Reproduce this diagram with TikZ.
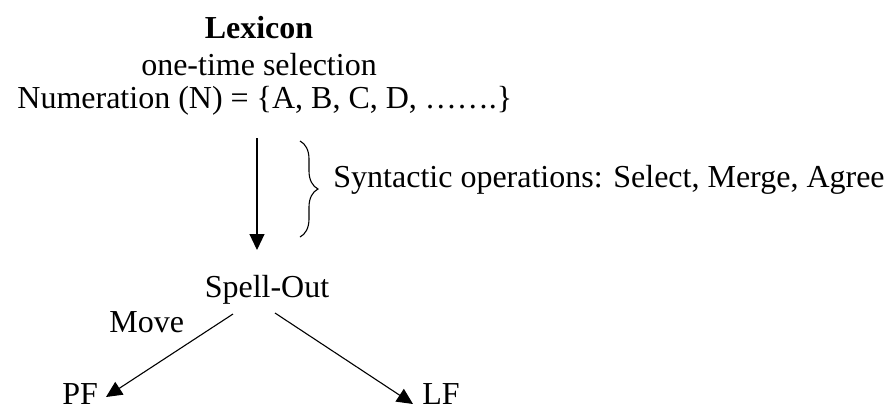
\documentclass[tikz,border=0pt]{standalone}
\usepackage{fontspec}
\setmainfont{Liberation Serif}
\usetikzlibrary{arrows.meta,decorations.pathreplacing}
\tikzset{
  lbl/.style={inner sep=0pt, font=\fontsize{16}{19}\selectfont},
  conn/.style={line width=0.55pt, -{Triangle[width=7.5pt,length=8pt]}},
}
\begin{document}
\begin{tikzpicture}[x=0.5pt,y=-0.5pt]
\useasboundingbox (0,0) rectangle (885,409);
\node[lbl, anchor=base, font=\fontsize{16}{19}\selectfont\bfseries] (lex) at (259,38) {Lexicon};
\node[lbl, anchor=base] (sel) at (259,75) {one-time selection};
\node[lbl, anchor=base west] (num) at (17,108) {Numeration (N) = \{A, B, C, D, …….\}};
\coordinate (vtop) at (257,138);
\coordinate (vbot) at (257,250);
\draw[conn] (vtop) -- (vbot);
\coordinate (btop) at (300,141);
\coordinate (bbot) at (300,237);
\draw[line width=0.55pt, decorate, decoration={brace, amplitude=9pt}] (btop) -- (bbot);
\node[lbl, anchor=base west] (syn) at (333,187) {Syntactic operations: Select, Merge, Agree};
\node[lbl, anchor=base] (so) at (267,297) {Spell-Out};
\node[lbl, anchor=base west] (mv) at (109,332) {Move};
\node[lbl, anchor=base west] (pf) at (62,404) {PF};
\node[lbl, anchor=base west] (lf) at (422,404) {LF};
\coordinate (l1) at (233,314);
\coordinate (l2) at (106,397);
\coordinate (r1) at (275,313);
\coordinate (r2) at (413,404);
\draw[conn] (l1) -- (l2);
\draw[conn] (r1) -- (r2);
\end{tikzpicture}
\end{document}
